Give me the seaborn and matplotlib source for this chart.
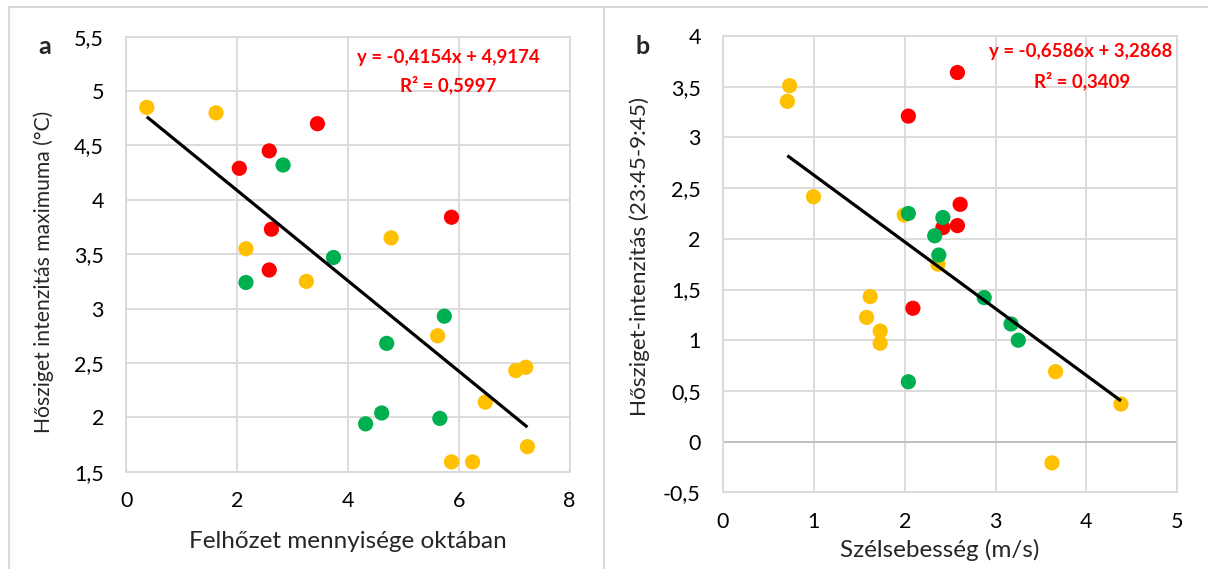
import matplotlib
matplotlib.use("Agg")
import matplotlib.pyplot as plt
from matplotlib.lines import Line2D
import seaborn as sns
import pandas as pd
import numpy as np

# ---------------- data: panel a ----------------
a_cloud = [0.37, 1.62, 2.16, 3.25, 4.78, 5.62, 7.03, 7.21, 6.48, 5.87, 6.25, 7.24,
           2.04, 2.58, 3.45, 2.62, 2.58, 5.87,
           2.83, 3.74, 2.16, 5.74, 4.70, 4.61, 4.32, 5.66]
a_uhi_max = [4.85, 4.80, 3.55, 3.25, 3.65, 2.75, 2.43, 2.46, 2.14, 1.59, 1.59, 1.73,
             4.29, 4.45, 4.70, 3.73, 3.355, 3.84,
             4.32, 3.47, 3.24, 2.93, 2.68, 2.04, 1.94, 1.99]
a_group = ["Y"] * 12 + ["R"] * 6 + ["G"] * 8
a_slope, a_intercept, a_r2 = -0.4154, 4.9174, 0.5997

# ---------------- data: panel b ----------------
b_wind = [0.733, 0.708, 0.996, 1.995, 2.366, 1.62, 1.58, 1.73, 1.73, 3.66, 4.38, 3.62,
          2.58, 2.04, 2.61, 2.42, 2.58, 2.09,
          2.04, 2.42, 2.33, 2.375, 2.875, 3.17, 3.25, 2.04]
b_uhi = [3.51, 3.356, 2.415, 2.235, 1.75, 1.43, 1.225, 1.09, 0.97, 0.69, 0.37, -0.21,
         3.64, 3.21, 2.34, 2.11, 2.13, 1.315,
         2.25, 2.21, 2.03, 1.84, 1.42, 1.16, 1.0, 0.59]
b_group = ["Y"] * 12 + ["R"] * 6 + ["G"] * 8
b_slope, b_intercept, b_r2 = -0.6586, 3.2868, 0.3409

# ---------------- ticks ----------------
a_xticks = [0, 2, 4, 6, 8]
a_yticks = [1.5, 2, 2.5, 3, 3.5, 4, 4.5, 5, 5.5]
a_yticklabels = ["1,5", "2", "2,5", "3", "3,5", "4", "4,5", "5", "5,5"]
b_xticks = [0, 1, 2, 3, 4, 5]
b_yticks = [-0.5, 0, 0.5, 1, 1.5, 2, 2.5, 3, 3.5, 4]
b_yticklabels = ["-0,5", "0", "0,5", "1", "1,5", "2", "2,5", "3", "3,5", "4"]

group_colors = {"Y": "#FFC000", "R": "#FF0000", "G": "#00B050"}

sns.set_style("white")
plt.rcParams["font.family"] = ["Lato", "DejaVu Sans"]

W, H = 1208, 569
fig = plt.figure(figsize=(W / 100, H / 100), dpi=100)


def fx(px):
    return px / W


def fy(py):
    return 1 - py / H


GRID = "#D9D9D9"
TICK_FS = 15.5
XLABEL_FS = 17.5
ANN_FS = 13.4


def style_axes(ax, xlim, ylim, xticks, yticks, yticklabels):
    ax.set_xlim(*xlim)
    ax.set_ylim(*ylim)
    ax.set_xticks(xticks)
    ax.set_xticklabels([str(t) for t in xticks])
    ax.set_yticks(yticks)
    ax.set_yticklabels(yticklabels)
    ax.grid(True, color=GRID, lw=1.3)
    ax.set_axisbelow(True)
    for s in ax.spines.values():
        s.set_color(GRID)
        s.set_linewidth(1.3)
    ax.tick_params(length=0, labelsize=TICK_FS, colors="black")
    ax.tick_params(axis="y", pad=16)
    ax.tick_params(axis="x", pad=14)
    ax.set_xlabel("")
    ax.set_ylabel("")


# panel a
ax1 = fig.add_axes([fx(126.3), fy(471.7), fx(569.5 - 126.3), (471.7 - 36.7) / H])
df_a = pd.DataFrame({"x": a_cloud, "y": a_uhi_max, "g": a_group})
sns.scatterplot(data=df_a, x="x", y="y", hue="g", palette=group_colors,
                hue_order=["Y", "R", "G"], s=120, linewidth=0, legend=False,
                ax=ax1, zorder=3)
xa = np.array([min(a_cloud), max(a_cloud)])
ax1.plot(xa, a_slope * xa + a_intercept, color="black", lw=2.3, zorder=4,
         solid_capstyle="butt")
style_axes(ax1, (0, 8), (1.5, 5.5), a_xticks, a_yticks, a_yticklabels)

# panel b
ax2 = fig.add_axes([fx(723), fy(492.3), fx(1177.3 - 723), (492.3 - 36) / H])
df_b = pd.DataFrame({"x": b_wind, "y": b_uhi, "g": b_group})
sns.scatterplot(data=df_b, x="x", y="y", hue="g", palette=group_colors,
                hue_order=["Y", "R", "G"], s=120, linewidth=0, legend=False,
                ax=ax2, zorder=3)
xb = np.array([min(b_wind), max(b_wind)])
ax2.plot(xb, b_slope * xb + b_intercept, color="black", lw=2.3, zorder=4,
         solid_capstyle="butt")
style_axes(ax2, (0, 5), (-0.5, 4), b_xticks, b_yticks, b_yticklabels)
ax2.axhline(0, color="#BFBFBF", lw=1.3, zorder=1)


def fmt(v):
    return f"{v:.4f}".replace(".", ",")


def eq_text(slope, intercept):
    sign = "+" if intercept >= 0 else "-"
    return f"y = {fmt(slope)}x {sign} {fmt(abs(intercept))}"


# equations
fig.text(fx(448), fy(57), eq_text(a_slope, a_intercept), color="#FF0000",
         fontsize=ANN_FS, fontweight="bold", ha="center", va="center")
fig.text(fx(448), fy(85), f"R² = {fmt(a_r2)}", color="#FF0000",
         fontsize=ANN_FS, fontweight="bold", ha="center", va="center")
fig.text(fx(1081), fy(52), eq_text(b_slope, b_intercept), color="#FF0000",
         fontsize=ANN_FS, fontweight="bold", ha="center", va="center")
fig.text(fx(1082), fy(81), f"R² = {fmt(b_r2)}", color="#FF0000",
         fontsize=ANN_FS, fontweight="bold", ha="center", va="center")

# panel letters
fig.text(fx(45), fy(47), "a", fontsize=18, fontweight="bold", ha="center", va="center")
fig.text(fx(643), fy(47), "b", fontsize=18, fontweight="bold", ha="center", va="center")

# axis titles
fig.text(fx(347.5), fy(541), "Felhőzet mennyisége oktában", fontsize=XLABEL_FS,
         ha="center", va="center")
fig.text(fx(43.5), fy(272), "Hősziget intenzitás maximuma (°C)", fontsize=15.2,
         ha="center", va="center", rotation=90)
fig.text(fx(939.6), fy(550), "Szélsebesség (m/s)", fontsize=XLABEL_FS,
         ha="center", va="center")
fig.text(fx(640), fy(257), "Hősziget-intenzitás (23:45-9:45)", fontsize=16.2,
         ha="center", va="center", rotation=90)

# panel frames
frame_kw = dict(color=GRID, lw=1.5, transform=fig.transFigure)
fig.add_artist(Line2D([fx(9), 1], [fy(7), fy(7)], **frame_kw))
fig.add_artist(Line2D([fx(9), fx(9)], [fy(7), 0], **frame_kw))
fig.add_artist(Line2D([fx(604), fx(604)], [fy(7), 0], **frame_kw))

fig.savefig("out.png", dpi=100, facecolor="white")
